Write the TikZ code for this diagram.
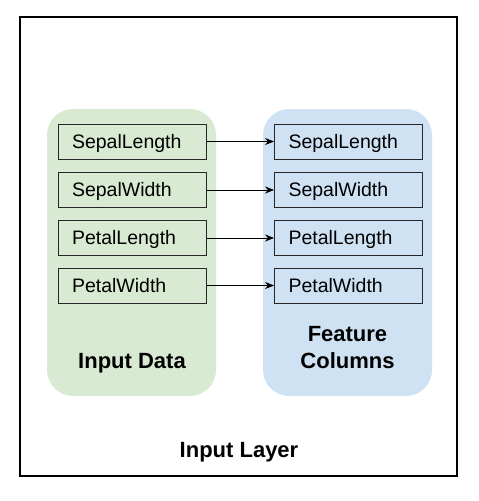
\documentclass[tikz,border=0pt]{standalone}
\usepackage{fontspec}
\setmainfont{Liberation Sans}
\usetikzlibrary{arrows.meta}
\definecolor{datagreen}{HTML}{D9EAD3}
\definecolor{colblue}{HTML}{CFE2F3}
\tikzset{
	panel/.style={rounded corners=26pt, minimum width=169pt, minimum height=287pt, inner sep=0pt},
	field/.style={draw=black!85, line width=0.9pt, minimum width=148pt, minimum height=35pt, text width=120pt, inner xsep=14pt, text height=13.8pt, text depth=0pt, align=left, font=\fontsize{19.5}{22}\selectfont},
	title/.style={font=\bfseries\fontsize{22}{27}\selectfont, align=center, anchor=base},
	feed/.style={-{Stealth[length=9pt,width=7pt]}, line width=0.9pt}
}
\begin{document}
\begin{tikzpicture}[x=1pt, y=-1pt]
		\useasboundingbox (0,0) rectangle (479,501);
		\draw [line width=1.5pt] (20,17) rectangle (457,476);
		
		\node [panel, fill=datagreen] (data) at (131.5,252.5) {};
		\node [panel, fill=colblue] (cols) at (347.5,252.5) {};
		
		\node [field] (sl) at (132,141.5) {SepalLength};
		\node [field] (sw) at (132,190) {SepalWidth};
		\node [field] (pl) at (132,238) {PetalLength};
		\node [field] (pw) at (132,285.5) {PetalWidth};
		
		\node [field] (fsl) at (348.5,141.5) {SepalLength};
		\node [field] (fsw) at (348.5,190) {SepalWidth};
		\node [field] (fpl) at (348.5,238) {PetalLength};
		\node [field] (fpw) at (348.5,285.5) {PetalWidth};
		
		\draw [feed] (sl) -- (fsl);
		\draw [feed] (sw) -- (fsw);
		\draw [feed] (pl) -- (fpl);
		\draw [feed] (pw) -- (fpw);
		
		\node [title] (datalabel) at (132,368) {Input Data};
		\node [title] (colslabel) at (347.5,368) {Feature\\Columns};
		\node [title] (layerlabel) at (239,457) {Input Layer};
	\end{tikzpicture}
\end{document}
